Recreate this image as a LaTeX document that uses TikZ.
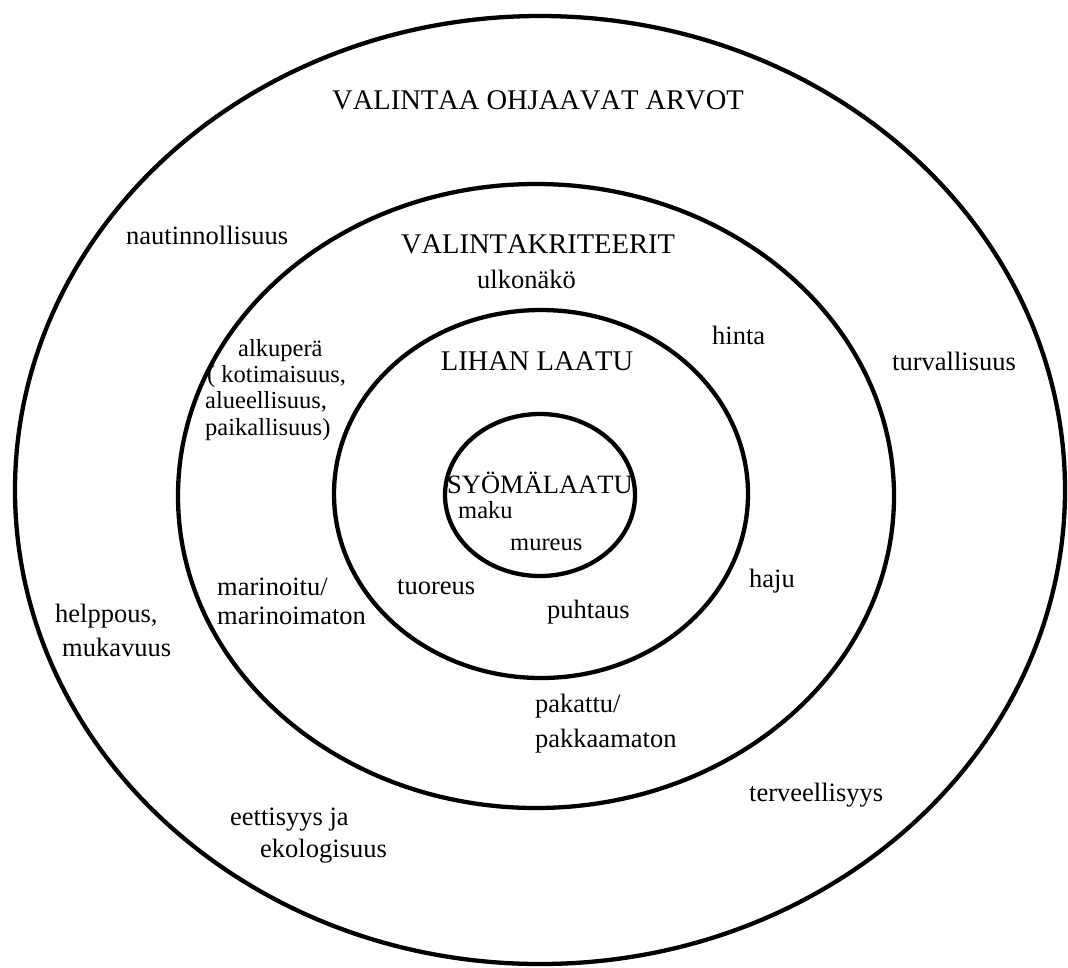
\documentclass[tikz,border=0pt]{standalone}
\usepackage{fontspec}
\setmainfont{Liberation Serif}[Kerning=Off]
\begin{document}
\begin{tikzpicture}[x=1pt,y=-1pt,
  ring/.style={line width=4.3pt, draw=black},
  lbl/.style={inner sep=0pt, anchor=base west, font=\fontsize{26.5}{26.5}\selectfont},
  captxt/.style={inner sep=0pt, anchor=base, font=\fontsize{28.5}{28.5}\selectfont},
  smalltxt/.style={inner sep=0pt, anchor=base west, font=\fontsize{24.5}{24.5}\selectfont}]
\fill[white] (0,0) rectangle (1068,967);
\useasboundingbox (0,0) rectangle (1068,967);
% ring centres
\coordinate (c1) at (540,490);
\coordinate (c2) at (536,496);
\coordinate (c3) at (541,494);
\coordinate (c4) at (540,495);
\draw[ring] (c1) ellipse [x radius=525pt, y radius=474pt];
\draw[ring] (c2) ellipse [x radius=358pt, y radius=312pt];
\draw[ring] (c3) ellipse [x radius=207pt, y radius=184pt];
\draw[ring] (c4) ellipse [x radius=95pt, y radius=81pt];
% headings
\node[captxt] (arvot) at (538,109) {VALINTAA OHJAAVAT ARVOT};
\node[captxt] (krit) at (538,253) {VALINTAKRITEERIT};
\node[captxt] (laatu) at (537,370) {LIHAN LAATU};
\node[lbl] (syo) at (447,493) {SYÖMÄLAATU};
% innermost
\node[smalltxt] (maku) at (458,518) {maku};
\node[smalltxt] (mureus) at (510,550) {mureus};
% meat quality ring
\node[lbl] (tuoreus) at (397,594) {tuoreus};
\node[lbl] (puhtaus) at (547,618) {puhtaus};
% criteria ring
\node[lbl] (ulkonako) at (477,288) {ulkonäkö};
\node[lbl] (hinta) at (712,344) {hinta};
\node[lbl] (haju) at (749,587) {haju};
\node[lbl] (pak1) at (535,712) {pakattu/};
\node[lbl] (pak2) at (535,747) {pakkaamaton};
\node[lbl] (mar1) at (217,595) {marinoitu/};
\node[lbl] (mar2) at (217,624) {marinoimaton};
\node[smalltxt] (alk1) at (238,356) {alkuperä};
\node[smalltxt] (alk2) at (207,382) {( kotimaisuus,};
\node[smalltxt] (alk3) at (205,408) {alueellisuus,};
\node[smalltxt] (alk4) at (205,435) {paikallisuus)};
% values ring
\node[lbl] (nautinto) at (126,244) {nautinnollisuus};
\node[lbl] (turva) at (892,370) {turvallisuus};
\node[lbl] (terve) at (749,801) {terveellisyys};
\node[lbl] (help1) at (55,622) {helppous,};
\node[lbl] (help2) at (62,656) {mukavuus};
\node[lbl] (eet1) at (230,825) {eettisyys ja};
\node[lbl] (eet2) at (260,857) {ekologisuus};
\end{tikzpicture}
\end{document}
